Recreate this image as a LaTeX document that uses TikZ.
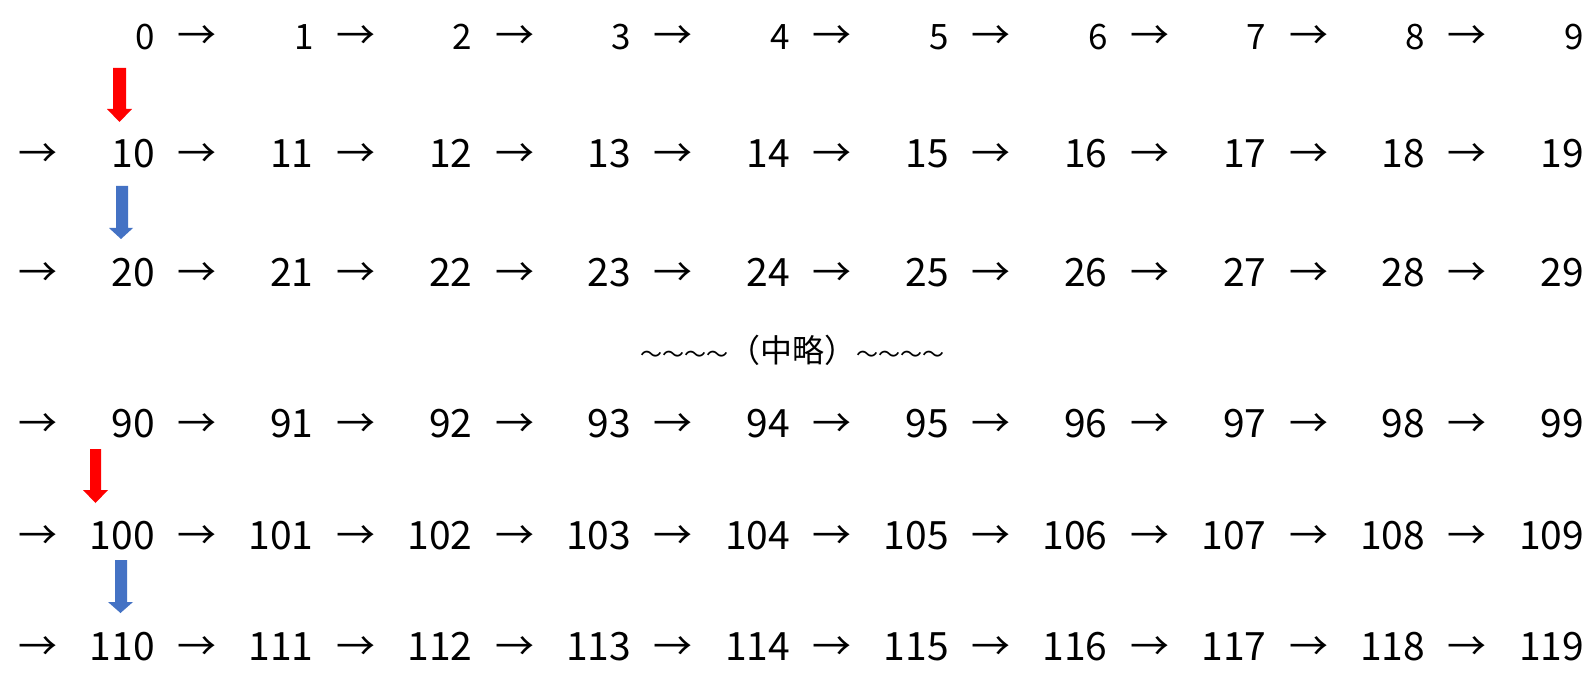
\documentclass[tikz,border=0pt]{standalone}
\usepackage{fontspec}
\setmainfont{Noto Sans CJK JP}
\definecolor{arrred}{HTML}{FF0000}
\definecolor{arrblue}{HTML}{4472C4}
\begin{document}
\begin{tikzpicture}[x=1pt,y=-1pt,
  num/.style={anchor=base east,inner sep=0pt},
  arr/.style={anchor=base,inner sep=0pt,font=\fontsize{39}{39}\selectfont},
  redblock/.style={fill=arrred},
  blueblock/.style={fill=arrblue}]
\useasboundingbox[fill=white] (0,0) rectangle (1591,687);
\foreach \r/\base/\start/\lead/\fs in {0/50/0/0/35,1/168/10/1/39,2/287/20/1/39,3/437/90/1/39,4/549/100/1/39,5/660/110/1/39}{
  \ifnum\lead=1 \node[arr] (l\r) at (38.5,\base) {→}; \fi
  \foreach \k in {0,...,9}{
    \pgfmathtruncatemacro\n{\start+\k}
    \node[num,font=\fontsize{\fs}{\fs}\selectfont] (n\n) at ({155+158.8*\k},\base) {\n};
    \ifnum\k<9 \node[arr] (a\n) at ({197+158.8*\k},\base) {→}; \fi
  }
}
\node[inner sep=0pt] (mid) at (792,350) {\fontsize{22}{22}\selectfont ～～～～\fontsize{32}{32}\selectfont（中略）\fontsize{22}{22}\selectfont ～～～～};
\fill[redblock] (113,68) -- (126,68) -- (126,109) -- (132,109) -- (119.5,122) -- (107,109) -- (113,109) -- cycle;
\fill[blueblock] (116,186) -- (128,186) -- (128,228) -- (133,228) -- (121,239) -- (109,228) -- (116,228) -- cycle;
\fill[redblock] (90,449) -- (101,449) -- (101,490) -- (108,490) -- (95.5,503) -- (83,490) -- (90,490) -- cycle;
\fill[blueblock] (115,560) -- (127,560) -- (127,602) -- (133,602) -- (120.5,613) -- (108,602) -- (115,602) -- cycle;
\end{tikzpicture}
\end{document}
